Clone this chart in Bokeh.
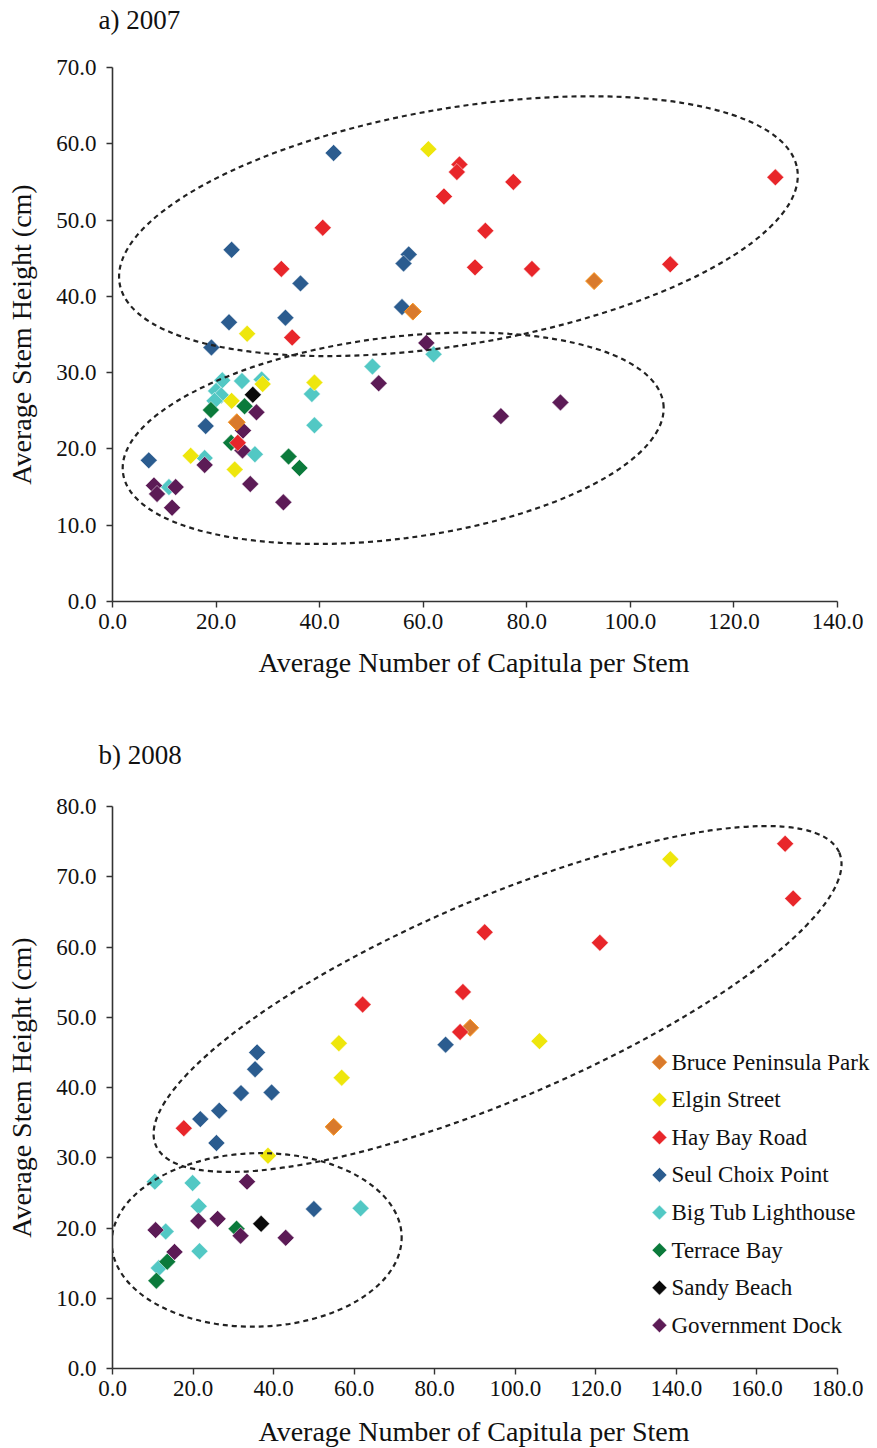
import math

from bokeh.core.properties import value
from bokeh.embed import file_html
from bokeh.layouts import column
from bokeh.models import (FixedTicker, LinearAxis, NumeralTickFormatter, Range1d,
                          SingleIntervalTicker, Title)
from bokeh.plotting import figure
from bokeh.resources import INLINE

FONT = "Liberation Serif"

SITES = ["Bruce Peninsula Park", "Elgin Street", "Hay Bay Road", "Seul Choix Point",
         "Big Tub Lighthouse", "Terrace Bay", "Sandy Beach", "Government Dock"]
FILLS = ["#D97A2C", "#EEE60C", "#E8262A", "#2B5C8F",
         "#52C8C4", "#0B7A3B", "#0A0A0A", "#5C1B56"]
EDGES = ["#F7941D", "white", "white", "white", "white", "white", "white", "white"]

# ---- 2007: average capitula per stem (x) and average stem height, cm (y) ----
bruce_2007_x = [93.0, 58.0, 24.0]
bruce_2007_y = [42.0, 38.0, 23.5]
elgin_2007_x = [61.0, 26.0, 29.0, 39.0, 23.0, 15.1, 23.6]
elgin_2007_y = [59.3, 35.1, 28.5, 28.7, 26.3, 19.1, 17.3]
haybay_2007_x = [67.0, 66.5, 64.0, 77.4, 40.6, 72.0, 32.6, 70.0, 81.0, 107.7, 128.0, 34.7, 24.2]
haybay_2007_y = [57.3, 56.3, 53.1, 55.0, 49.0, 48.6, 43.6, 43.8, 43.6, 44.2, 55.6, 34.6, 20.8]
seul_2007_x = [42.7, 23.0, 57.2, 56.2, 36.3, 55.9, 33.4, 22.5, 19.1, 18.0, 7.0]
seul_2007_y = [58.8, 46.1, 45.5, 44.3, 41.7, 38.6, 37.2, 36.6, 33.3, 23.0, 18.5]
bigtub_2007_x = [62.0, 50.2, 21.2, 25.0, 28.8, 38.5, 20.0, 21.0, 19.7, 39.0, 27.5, 17.8, 10.9]
bigtub_2007_y = [32.4, 30.8, 29.0, 28.9, 29.1, 27.2, 27.6, 27.0, 26.3, 23.1, 19.3, 18.8, 15.0]
terrace_2007_x = [25.5, 19.0, 22.9, 34.0, 36.1]
terrace_2007_y = [25.6, 25.1, 20.8, 19.0, 17.5]
sandy_2007_x = [27.1]
sandy_2007_y = [27.1]
govdock_2007_x = [60.6, 51.4, 86.5, 75.0, 27.8, 25.2, 25.1, 17.8, 26.6, 33.0, 8.0, 8.6, 12.2, 11.5]
govdock_2007_y = [33.9, 28.6, 26.1, 24.3, 24.8, 22.4, 19.8, 17.9, 15.4, 13.0, 15.2, 14.1, 15.0, 12.3]

# ---- 2008 ----
bruce_2008_x = [88.8, 54.9]
bruce_2008_y = [48.5, 34.4]
elgin_2008_x = [138.5, 56.2, 56.9, 106.0, 38.6]
elgin_2008_y = [72.5, 46.3, 41.4, 46.6, 30.3]
haybay_2008_x = [167.0, 169.0, 92.4, 121.0, 87.0, 62.1, 86.3, 17.7]
haybay_2008_y = [74.7, 66.9, 62.1, 60.6, 53.6, 51.8, 47.9, 34.2]
seul_2008_x = [82.7, 35.9, 35.4, 31.9, 39.5, 26.5, 21.8, 25.8, 50.0]
seul_2008_y = [46.1, 45.0, 42.6, 39.2, 39.3, 36.7, 35.5, 32.1, 22.7]
bigtub_2008_x = [10.5, 19.9, 21.4, 61.6, 13.2, 21.6, 11.5]
bigtub_2008_y = [26.6, 26.4, 23.1, 22.8, 19.5, 16.7, 14.3]
terrace_2008_x = [30.8, 13.6, 10.9]
terrace_2008_y = [19.9, 15.2, 12.5]
sandy_2008_x = [36.9]
sandy_2008_y = [20.6]
govdock_2008_x = [33.4, 21.3, 26.1, 31.8, 43.0, 10.7, 15.4]
govdock_2008_y = [26.6, 21.0, 21.3, 18.9, 18.6, 19.7, 16.6]

# grouping ellipses: centre x, centre y, width (x units), height (y units), tilt in degrees
groups_2007 = [(66.8, 49.2, 132.7, 31.0, 9.6), (54.2, 21.4, 105.2, 26.4, 7.3)]
groups_2008 = [(95.6, 52.6, 184.6, 28.5, 23.2), (35.8, 18.3, 72.0, 24.7, 1.5)]

data_2007 = [(bruce_2007_x, bruce_2007_y), (elgin_2007_x, elgin_2007_y),
             (haybay_2007_x, haybay_2007_y), (seul_2007_x, seul_2007_y),
             (bigtub_2007_x, bigtub_2007_y), (terrace_2007_x, terrace_2007_y),
             (sandy_2007_x, sandy_2007_y), (govdock_2007_x, govdock_2007_y)]
data_2008 = [(bruce_2008_x, bruce_2008_y), (elgin_2008_x, elgin_2008_y),
             (haybay_2008_x, haybay_2008_y), (seul_2008_x, seul_2008_y),
             (bigtub_2008_x, bigtub_2008_y), (terrace_2008_x, terrace_2008_y),
             (sandy_2008_x, sandy_2008_y), (govdock_2008_x, govdock_2008_y)]

# drawing order of the series (later ones sit on top)
DRAW_ORDER = [3, 4, 5, 7, 6, 0, 1, 2]

MARKER = dict(marker="square", size=12, angle=math.pi / 4)

PLOT_W = 877
LEFT = 112
AXIS_W = 725          # pixel length of the drawn x axis
RIGHT_ROOM = 40       # frame continues past the axis end so the key is not cut
XCAP_SHIFT = 146      # left edge of the x caption, measured from the frame's left


def blank_strip(size):
    """An axis that draws nothing and only takes up `size` pixels of room."""
    return LinearAxis(ticker=FixedTicker(ticks=[0], minor_ticks=[]),
                      major_label_overrides={0: ""}, major_label_text_font_size="0px",
                      major_label_standoff=0, axis_label_standoff=0,
                      axis_line_color=None, major_tick_line_color=None,
                      minor_tick_line_color=None, major_tick_out=size, major_tick_in=0,
                      minor_tick_out=0, minor_tick_in=0)


def make_panel(title, data, groups, xmax, ymax, height, top, frame_h, title_gap,
               cap_gap):
    frame_w = AXIS_W + RIGHT_ROOM
    x_end = xmax * frame_w / AXIS_W
    p = figure(width=PLOT_W, height=height, output_backend="svg", toolbar_location=None,
               x_range=Range1d(0, x_end), y_range=Range1d(0, ymax),
               min_border_left=LEFT, min_border_right=PLOT_W - LEFT - frame_w,
               min_border_top=top, min_border_bottom=height - top - frame_h)
    p.outline_line_color = None
    p.grid.visible = False
    p.background_fill_color = "white"
    p.border_fill_color = "white"

    xaxis = p.below[0]
    yaxis = p.left[0]

    p.add_layout(blank_strip(title_gap), "above")

    p.title.text = title
    p.title.text_font = FONT
    p.title.text_font_size = "27px"
    p.title.text_font_style = "normal"
    p.title.text_color = "#111111"
    p.title.align = "left"
    p.title.offset = -14
    p.title.standoff = 0

    xaxis.ticker = SingleIntervalTicker(interval=20)
    yaxis.ticker = SingleIntervalTicker(interval=10)
    xaxis.bounds = (0, xmax)
    yaxis.axis_label = "Average Stem Height (cm)"
    for ax in (xaxis, yaxis):
        ax.formatter = NumeralTickFormatter(format="0.0")
        ax.axis_line_color = "#333333"
        ax.axis_line_width = 1.6
        ax.major_tick_line_color = "#333333"
        ax.major_tick_line_width = 1.4
        ax.major_tick_out = 6
        ax.major_tick_in = 0
        ax.minor_tick_line_color = None
        ax.major_label_text_font = FONT
        ax.major_label_text_font_size = "23px"
        ax.major_label_text_color = "#111111"
        ax.axis_label_text_font = FONT
        ax.axis_label_text_font_size = "28px"
        ax.axis_label_text_font_style = "normal"
        ax.axis_label_text_color = "#111111"
    xaxis.major_label_standoff = 6
    yaxis.major_label_standoff = 10
    yaxis.axis_label_standoff = 16

    # x-axis caption, centred under the drawn axis rather than the whole frame
    p.add_layout(blank_strip(cap_gap), "below")
    xcap = Title(text="Average Number of Capitula per Stem", align="left",
                 offset=XCAP_SHIFT, standoff=0, text_font=FONT,
                 text_font_size="28px", text_font_style="normal",
                 text_color="#111111")
    p.add_layout(xcap, "below")

    for i in DRAW_ORDER:
        xs, ys = data[i]
        p.scatter(xs, ys, fill_color=FILLS[i], line_color=EDGES[i],
                  line_width=1.0 if i == 0 else 0.5, **MARKER)

    for cx, cy, w, h, tilt in groups:
        p.ellipse(x=[cx], y=[cy], width=[w], height=[h], angle=[math.radians(tilt)],
                  fill_color=None, line_color="#222222", line_width=2.2,
                  line_dash="5 4")
    return p


p1 = make_panel("a) 2007", data_2007, groups_2007, 140, 70,
                height=728, top=67, frame_h=534, title_gap=33, cap_gap=13)
p2 = make_panel("b) 2008", data_2008, groups_2008, 180, 80,
                height=720, top=78, frame_h=562, title_gap=37, cap_gap=15)

# key for the 2008 panel: rotated-square swatches with their site names
key_x = 135.8
key_top = 43.6
key_step = 5.35
key_y = [key_top - k * key_step for k in range(len(SITES))]
p2.scatter([key_x] * len(SITES), key_y, fill_color=FILLS, line_color=EDGES,
           line_width=0.5, marker="square", size=10.5, angle=math.pi / 4)
p2.text([key_x] * len(SITES), key_y, text=SITES, x_offset=12,
        text_baseline="middle", text_align="left",
        text_font=value(FONT), text_font_size="23px", text_color="#111111")

layout = column(p1, p2, spacing=0)
open("out.html", "w").write(file_html(layout, INLINE))
